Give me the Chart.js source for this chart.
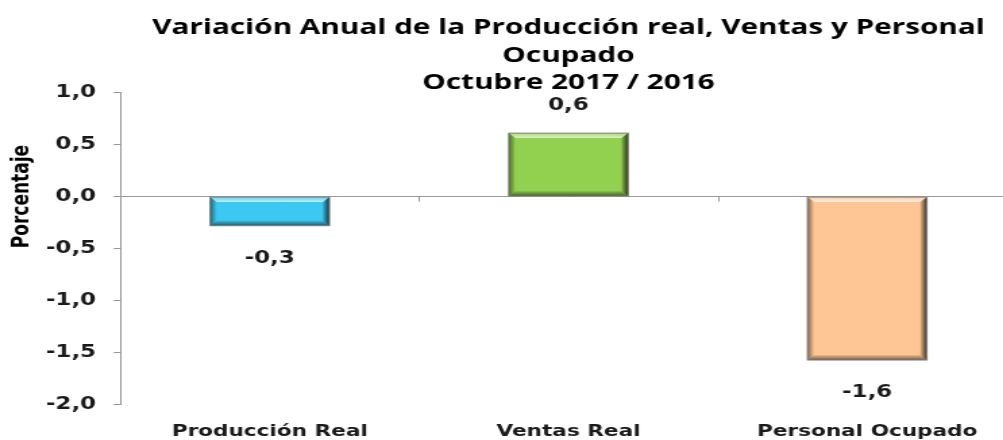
<!DOCTYPE html>
<html>
<head>
<meta charset="utf-8">
<script src="https://cdn.jsdelivr.net/npm/chart.js@4.4.1/dist/chart.umd.min.js"></script>
<style>
  html, body { margin: 0; padding: 0; background: #fff; overflow: hidden; }
  /* the reference is stretched sideways, so draw narrow and widen; the plot runs past the right and bottom edges */
  #wrap { width: 753px; height: 458px; transform: scaleX(1.35); transform-origin: 0 0; }
</style>
</head>
<body>
<div id="wrap"><canvas id="chart"></canvas></div>
<script>
const categories = ['Producción Real', 'Ventas Real', 'Personal Ocupado'];
const values = [-0.28, 0.61, -1.57];
const titleLines = ['Variación Anual de la Producción real, Ventas y Personal', 'Ocupado', 'Octubre 2017 / 2016'];
const yAxisTitle = 'Porcentaje';
const yMin = -2;
const yMax = 1;
const yStep = 0.5;

const faceColours = ['#3cc8f0', '#92d050', '#fec694'];

const fmt = v => v.toFixed(1).replace('.', ',');

// bevelled look of the Excel bars
const bevelBars = {
  id: 'bevelBars',
  afterDatasetsDraw(chart) {
    const ctx = chart.ctx;
    const meta = chart.getDatasetMeta(0);
    meta.data.forEach(bar => {
      const p = bar.getProps(['x', 'y', 'base', 'width'], true);
      const l = p.x - p.width / 2, r = p.x + p.width / 2;
      const t = Math.min(p.y, p.base), b = Math.max(p.y, p.base);
      const bw = 5, bh = 5;
      const poly = (pts, fill) => {
        ctx.beginPath();
        ctx.moveTo(pts[0][0], pts[0][1]);
        pts.slice(1).forEach(q => ctx.lineTo(q[0], q[1]));
        ctx.closePath();
        ctx.fillStyle = fill;
        ctx.fill();
      };
      const grad = (x0, y0, x1, y1, c0, c1) => {
        const g = ctx.createLinearGradient(x0, y0, x1, y1);
        g.addColorStop(0, c0);
        g.addColorStop(1, c1);
        return g;
      };
      ctx.save();
      poly([[l, t], [r, t], [r - bw, t + bh], [l + bw, t + bh]],
        grad(0, t, 0, t + bh, 'rgba(255,255,255,0.2)', 'rgba(255,255,255,0.7)'));
      poly([[l, t], [l + bw, t + bh], [l + bw, b - bh], [l, b]],
        grad(l, 0, l + bw, 0, 'rgba(0,0,0,0.5)', 'rgba(0,0,0,0)'));
      poly([[r, t], [r, b], [r - bw, b - bh], [r - bw, t + bh]],
        grad(r, 0, r - bw, 0, 'rgba(0,0,0,0.75)', 'rgba(0,0,0,0.1)'));
      poly([[l, b], [r, b], [r - bw, b - bh], [l + bw, b - bh]],
        grad(0, b, 0, b - bh, 'rgba(0,0,0,0.55)', 'rgba(0,0,0,0.08)'));
      ctx.strokeStyle = '#808080';
      ctx.lineWidth = 1;
      ctx.strokeRect(l, t, r - l, b - t);
      ctx.restore();
    });
  }
};

// value labels, y title next to the zero line, small category ticks
const valueLabels = {
  id: 'valueLabels',
  afterDraw(chart) {
    const ctx = chart.ctx;
    const meta = chart.getDatasetMeta(0);
    const xs = chart.scales.x, ys = chart.scales.y;
    const zeroY = ys.getPixelForValue(0);
    ctx.save();
    ctx.strokeStyle = '#999';
    ctx.lineWidth = 1;
    for (let i = 0; i < categories.length - 1; i++) {
      const x = Math.round((xs.getPixelForValue(i) + xs.getPixelForValue(i + 1)) / 2) + 0.5;
      ctx.beginPath();
      ctx.moveTo(x, zeroY);
      ctx.lineTo(x, zeroY + 5);
      ctx.stroke();
    }
    ctx.font = 'bold 17px "DejaVu Sans"';
    ctx.fillStyle = '#1a1a1a';
    ctx.textAlign = 'center';
    ctx.textBaseline = 'middle';
    meta.data.forEach((bar, i) => {
      const v = values[i];
      const y = v >= 0 ? bar.y - 28 : bar.y + 33;
      ctx.fillText(fmt(v), bar.x, y);
    });
    ctx.translate(16.5, zeroY);
    ctx.rotate(-Math.PI / 2);
    ctx.font = 'bold 17px "DejaVu Sans"';
    ctx.fillStyle = '#000';
    ctx.fillText(yAxisTitle, 0, 0);
    ctx.restore();
  }
};

new Chart(document.getElementById('chart'), {
  type: 'bar',
  data: {
    labels: categories,
    datasets: [{
      data: values,
      backgroundColor: faceColours,
      borderWidth: 0,
      barPercentage: 0.4,
      categoryPercentage: 1
    }]
  },
  options: {
    responsive: true,
    maintainAspectRatio: false,
    devicePixelRatio: 1,
    animation: false,
    layout: { padding: { left: 21, right: 0, top: 0, bottom: 0 } },
    plugins: {
      legend: { display: false },
      tooltip: { enabled: false },
      title: {
        display: true,
        fullSize: false,
        text: titleLines,
        color: '#000',
        font: { family: '"Open Sans"', size: 22, weight: 'bold', lineHeight: 1.25 },
        padding: { top: 14, bottom: -4 }
      }
    },
    scales: {
      x: {
        grid: { display: false, drawTicks: false },
        border: { display: false },
        ticks: {
          color: '#1a1a1a',
          padding: 17,
          font: { family: '"DejaVu Sans"', size: 16, weight: 'bold' }
        }
      },
      y: {
        min: yMin,
        max: yMax,
        border: { display: true, color: '#999' },
        grid: {
          drawOnChartArea: true,
          color: c => (c.tick && c.tick.value === 0 ? '#999' : 'rgba(0,0,0,0)'),
          tickColor: '#999',
          tickLength: 5
        },
        ticks: {
          stepSize: yStep,
          padding: 13,
          color: '#1a1a1a',
          font: { family: '"DejaVu Sans"', size: 17, weight: 'bold' },
          callback: v => fmt(v)
        }
      }
    }
  },
  plugins: [bevelBars, valueLabels]
});
</script>
</body>
</html>
